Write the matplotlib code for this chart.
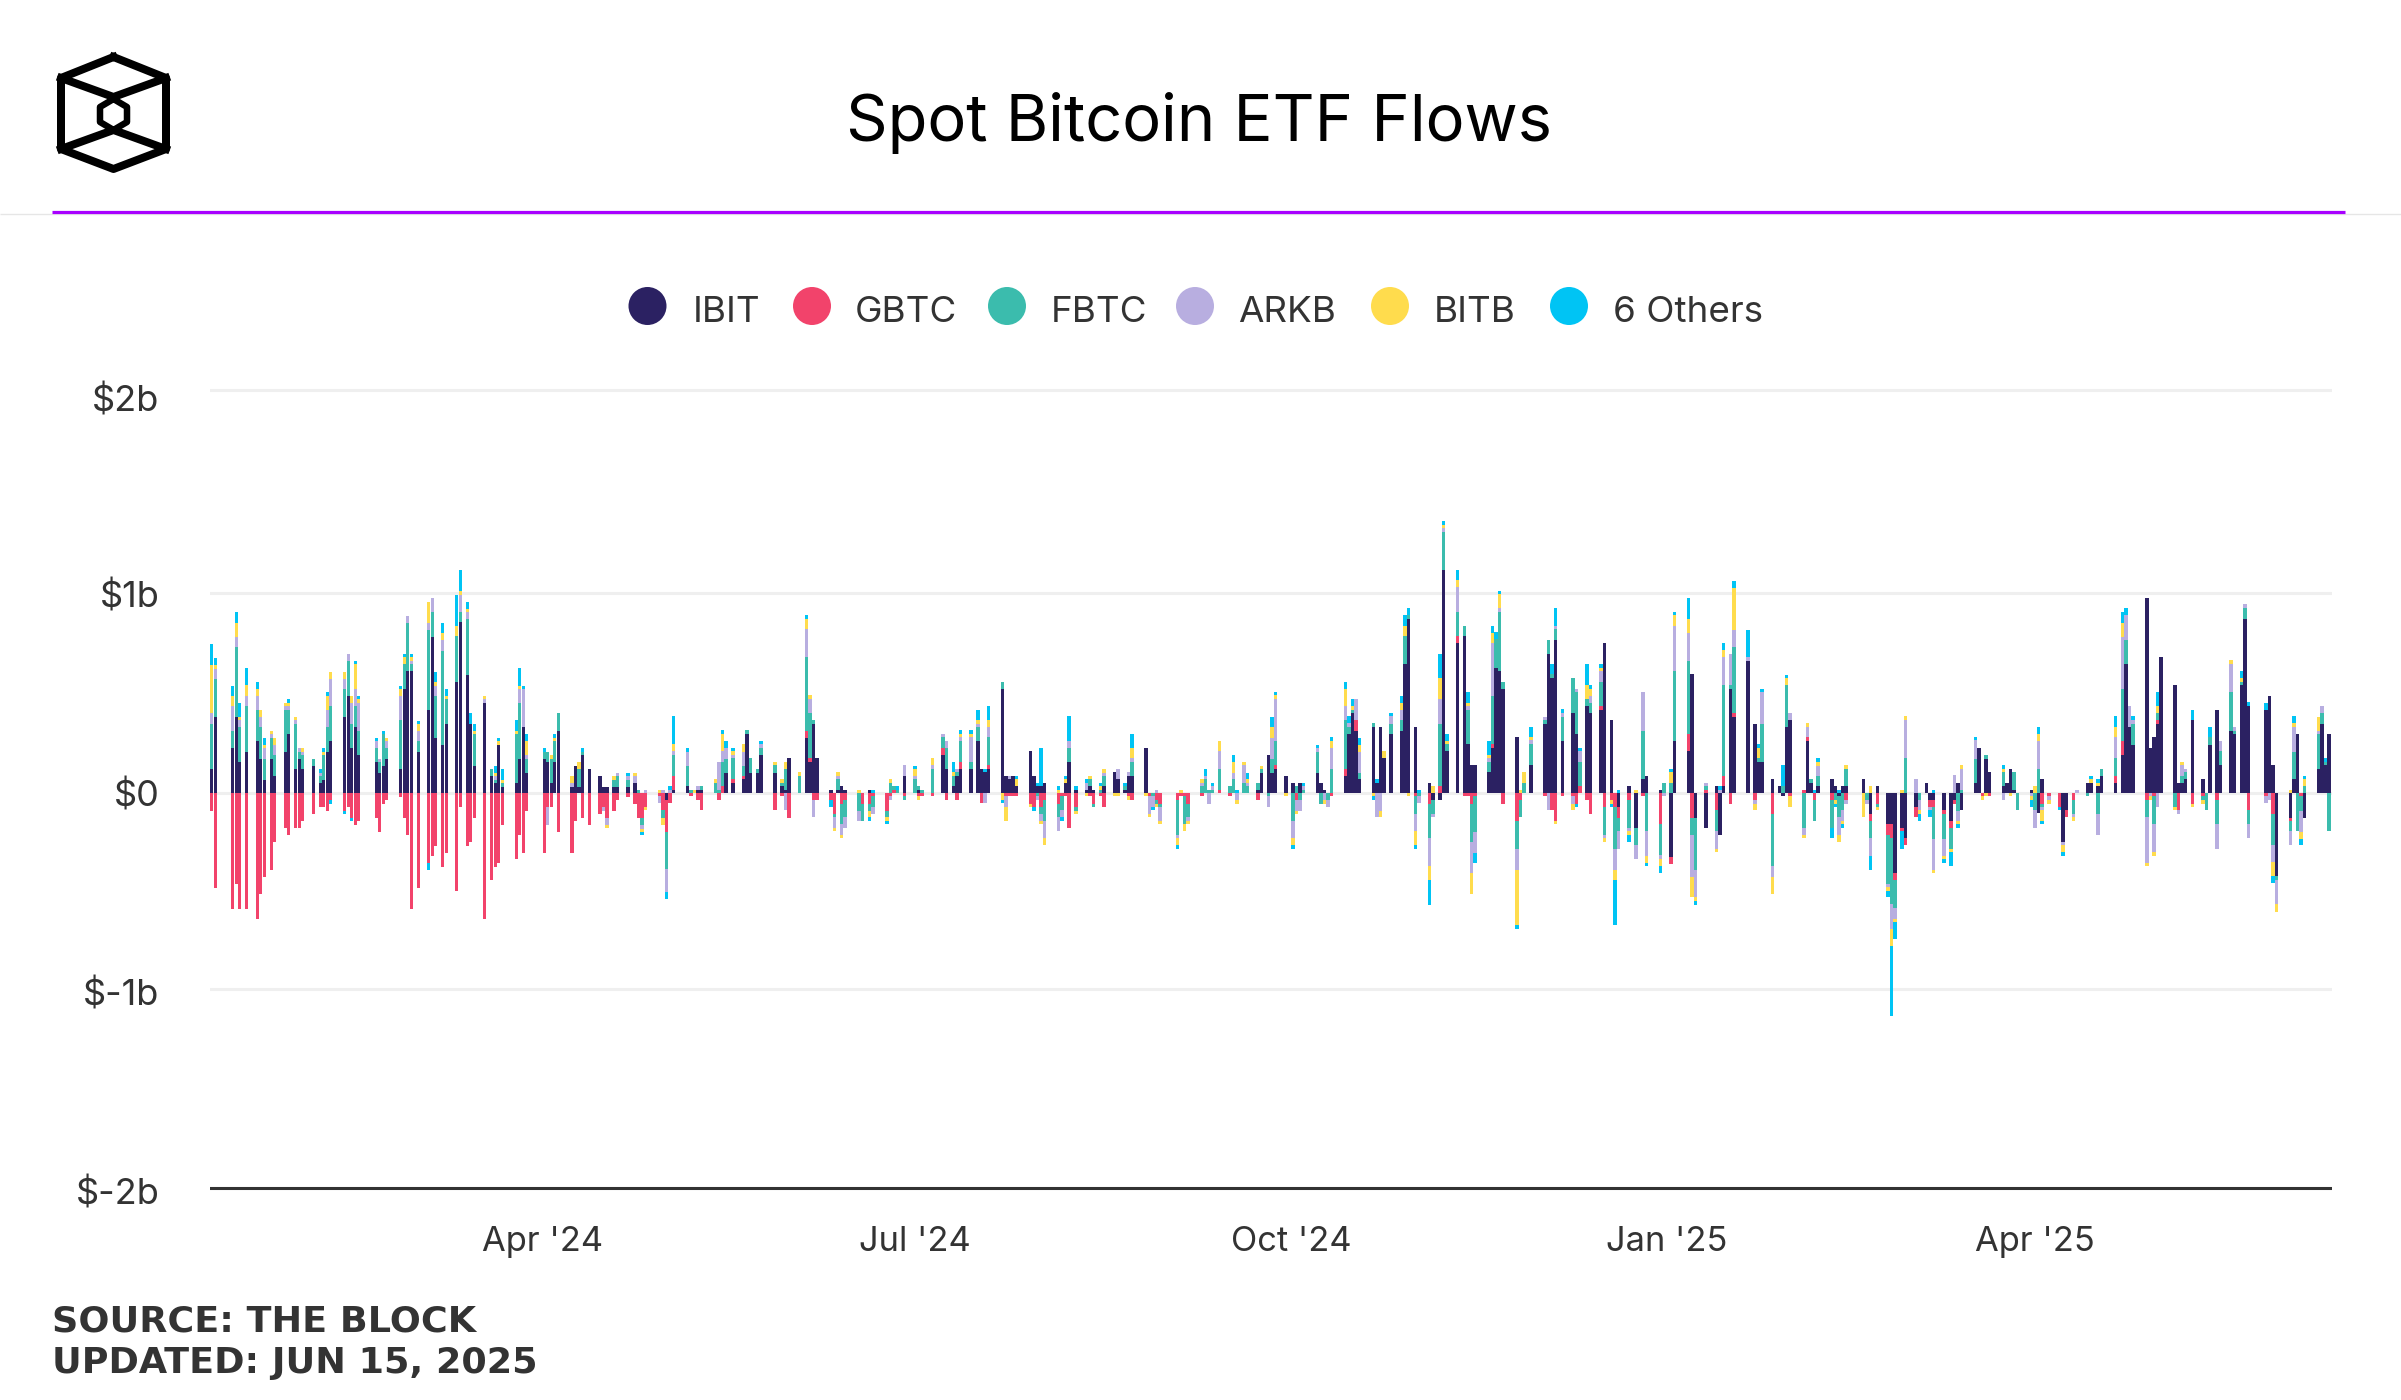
import numpy as np
import pandas as pd
import matplotlib
matplotlib.use("Agg")
import matplotlib.pyplot as plt
import matplotlib.dates as mdates
from matplotlib.lines import Line2D
from matplotlib.patches import Ellipse

# daily flows in $m, one line per week (Mon-Fri), first week starts Jan 8 2024
ibit = [
    0,0,0,120,380, 0,225,380,155,207, 260,172,67,172,85, 207,296,120,172,120, 137,50,67,207,260,
    380,488,225,330,190, 0,155,102,137,172, 120,522,611,611,207, 417,786,277,242,347, 558,857,593,347,137,
    452,85,50,242,32, 50,172,330,102,0, 172,155,50,155,312, 32,137,32,190,120, 85,32,32,32,32,
    32,50,0,0,0, 0,0,-33,0,17, 33,0,0,17,17, 0,0,0,102,52, 68,297,102,102,192,
    0,102,33,17,175, 0,277,157,349,175, 17,0,17,33,17, 0,0,0,17,0, 0,0,0,0,87,
    0,17,0,0,0, 192,122,33,87,122, 122,262,122,105,122, 524,87,68,87,33, 209,87,33,33,52,
    0,0,52,157,17, 17,33,17,0,33, 105,68,17,87,87, 227,0,0,0,0, 0,0,0,0,0,
    0,0,0,0,0, 0,0,0,0,0, 17,103,192,103,122, 87,52,0,52,0, 103,52,17,0,0,
    87,297,402,314,68, 332,52,332,174,297, 314,648,875,332,0, 52,-35,-35,1120,209, 753,788,244,139,139,
    104,227,628,613,524, 279,0,0,0,139, 347,698,578,767,262, 402,297,0,437,402, 419,753,367,0,-70,
    35,-175,0,70,87, 17,0,0,-322,262, 209,596,-124,0,-175, 35,-210,35,523,383, 0,663,349,157,157,
    70,35,-17,332,367, 0,262,52,0,33, 70,35,-17,35,35, 0,70,0,-105,35, -158,-158,-404,-175,-228,
    -70,0,52,-35,-35, -87,-140,-33,52,-87, 52,227,0,172,105, 33,52,122,17,0, 17,0,-103,70,0,
    0,-245,-87,0,0, 52,52,33,87,0, 52,192,648,332,242, 982,227,280,347,681, 543,52,52,68,367,
    68,0,242,419,139, 314,297,543,875,437, 0,419,489,139,-419, -124,68,297,0,-124, 122,349,139,297,0,
]
gbtc = [
    0,0,0,-88,-476, 0,-581,-457,-581,-581, -631,-509,-423,-387,-247, -177,-212,-177,-177,-142, -107,-72,-72,-88,-35,
    -88,-72,-124,-159,-142, 0,-124,-194,-53,-37, -18,-124,-212,-581,-476, -352,-317,-264,-370,-299, -493,-72,-264,-247,-124,
    -631,-439,-370,-352,-159, -334,-212,-299,-88,0, -299,-72,-72,0,-194, -299,-142,0,-124,-159, -107,-72,-124,-88,-35,
    -18,-53,-124,-124,-70, -17,-87,-162,-52,70, 0,-17,0,-35,-87, 0,-35,33,0,17, 18,0,0,0,0,
    0,-87,-17,0,-124, 0,35,18,-35,-35, -35,-105,0,-53,-35, 0,-53,0,-53,-17, -88,-17,17,0,-17,
    0,-17,-17,0,-17, 35,-35,0,-35,35, 0,0,-52,0,17, 0,-17,-17,-17,-17, -53,-70,0,-70,-35,
    -53,-17,-17,-175,-70, 0,-17,-53,-17,-70, 0,0,0,-17,-35, 0,-17,0,-35,-53, 0,-35,-17,-17,-53,
    -17,0,0,0,17, -17,0,0,0,0, -35,0,0,0,17, 0,0,-35,0,0, 0,0,0,0,-17,
    35,0,0,53,0, 0,0,0,0,0, 0,0,0,-17,0, -53,0,33,0,0, 35,-17,-17,-53,-17,
    0,17,0,0,-53, -140,-35,0,0,0, -17,0,-87,-139,-17, -17,-53,33,-33,-105, 18,-70,-35,-70,-55,
    -35,0,0,-17,0, -157,0,0,-35,0, 88,-124,0,0,17, -87,0,52,-53,18, 0,0,-35,0,0,
    -105,0,0,0,-17, 17,17,0,-35,0, -35,0,0,0,-35, 0,0,0,-35,-53, -52,-70,-35,-18,-35,
    -53,0,0,-35,-35, -18,-35,-20,0,0, 0,0,-17,0,-17, 0,0,0,0,0, 0,0,0,-53,-17,
    -70,0,-35,-35,0, 0,0,0,0,0, 35,70,0,0,0, -35,0,-17,20,0, 0,-87,0,0,-53,
    -17,0,0,-35,0, 0,0,0,0,-87, 0,-17,0,-105,0, -17,0,0,-17,0, 0,0,0,0,0,
]
fbtc = [
    0,0,0,225,195, 0,87,352,175,229, 157,159,105,105,105, 210,122,227,35,70, 35,35,124,124,175,
    142,175,122,105,122, 0,70,53,159,53, 245,124,245,35,53, 404,122,210,474,124, 229,52,281,0,159,
    0,35,17,0,17, 245,280,0,70,0, 35,52,122,105,88, 0,0,88,17,0, 0,0,0,35,53,
    35,0,15,-38,0, 0,-37,-189,0,105, 105,17,0,0,17, 52,17,124,70,105, 52,18,73,20,35,
    0,37,18,105,0, 87,370,227,18,0, 0,-18,52,-105,-88, -88,-88,0,-35,-53, -35,52,17,17,-18,
    68,17,17,0,122, 52,105,53,18,105, 35,70,0,0,140, 35,0,0,0,0, 0,0,-17,-35,-105,
    -70,-70,0,70,-18, 0,35,-17,17,53, 0,0,17,0,70, 0,0,-17,-18,-17, 0,-175,0,-140,-70,
    33,68,17,17,105, 33,68,0,52,33, 35,18,-17,70,124, 0,-140,33,-35,17, 105,-53,0,-35,122,
    245,35,17,0,35, 18,0,0,0,52, 53,140,18,-88,-17, -175,-70,313,194,35, 122,52,175,-192,-177,
    53,245,144,297,35, -140,-88,52,0,105, 18,70,18,57,122, 175,210,124,35,50, 122,-140,0,-210,-68,
    -140,-88,0,244,-193, -157,52,0,52,350, 367,-87,-262,0,17, -105,0,455,18,332, 0,0,0,18,192,
    -264,0,35,210,0, -175,0,18,-105,53, -140,-35,-105,-87,87, 0,0,-35,-88,-17, -245,-332,-140,0,175,
    0,-35,0,0,-159, -124,-105,0,-88,17, 120,0,0,20,0, 72,0,0,88,-87, 0,-87,122,-17,0,
    0,0,0,-70,0, -17,0,-105,35,0, 87,260,120,0,105, -88,0,-140,35,0, -70,0,35,37,0,
    -18,-87,37,-122,70, 194,17,17,53,-70, 0,0,0,-157,-18, -52,140,-192,-72,33, 175,53,17,-192,0,
]
arkb = [
    0,0,0,55,50, 0,125,52,35,52, 70,52,53,18,52, 18,18,18,18,17, 0,17,0,87,140,
    53,35,105,87,140, 0,35,17,0,35, 122,0,35,17,52, 35,70,53,52,0, 0,87,35,0,0,
    18,0,17,0,0, 0,70,192,18,0, 0,-88,0,0,0, 18,0,0,0,0, 0,-17,-35,0,17,
    18,35,0,-17,17, -35,17,-112,17,17, 70,0,0,17,0, 0,140,52,55,18, 70,0,0,0,18,
    0,0,0,-87,0, 0,140,70,-88,0, 0,-52,18,-52,-52, -52,0,0,0,-35, 0,-18,0,0,52,
    18,0,0,0,17, 18,35,0,17,17, 122,17,0,-52,53, 0,-53,18,0,0, 0,0,-18,-35,-88,
    -70,-35,0,35,0, 35,0,0,0,17, 0,53,0,18,17, 0,-88,-53,17,-70, 0,-18,0,0,-17,
    18,17,-53,17,87, 0,35,-35,87,18, 0,0,-53,105,210, 0,-88,-53,-53,17, 18,0,-35,-35,105,
    70,18,0,105,105, 0,-123,-88,0,37, 52,0,0,-88,-35, -140,-18,125,17,0, 124,0,18,-159,-105,
    17,264,0,18,0, -105,0,0,0,20, 18,-87,0,17,18, -37,18,53,0,35, 53,-18,0,-105,-87,
    -17,-70,0,193,-122, -18,-17,0,0,227, 140,-209,-139,0,18, -87,17,140,158,88, 0,18,-18,0,158,
    -52,0,0,0,35, -35,53,0,0,52, 0,0,-87,-53,-18, 0,0,-18,-87,0, -18,-124,-52,0,192,
    70,-52,0,-17,-157, -87,0,88,-52,105, 92,0,0,0,0, -35,0,0,0,0, -17,-88,140,-17,-18,
    0,-17,0,-18,17, 0,0,-105,0,0, 105,264,125,105,20, -227,-17,-140,-70,0, 0,-18,52,17,0,
    0,0,0,-124,53, 140,18,0,20,-70, 0,-35,-35,-87,-122, -70,124,0,-105,0, 17,35,0,0,0,
]
bitb = [
    0,0,0,245,20, 0,50,70,17,53, 35,35,17,17,35, 18,18,17,0,17, 0,0,17,70,35,
    35,0,35,124,18, 0,0,0,0,17, 35,35,0,18,35, 105,0,17,35,17, 52,18,18,0,17,
    17,0,17,18,17, 17,18,0,70,0, 0,0,18,17,0, 35,0,35,0,0, 0,0,-18,18,0,
    0,17,0,-17,-17, 17,-35,0,0,35, 0,0,17,0,0, 18,0,88,0,17, 37,0,0,0,0,
    0,18,18,35,0, 18,53,18,0,0, 0,-18,18,-18,0, 17,0,0,-35,0, -17,18,0,0,0,
    35,-18,0,0,35, 0,0,18,0,18, 18,18,0,0,35, -35,-70,0,0,35, -17,0,0,-18,-35,
    17,0,18,0,-17, -17,18,0,17,18, -17,-17,0,-18,53, -17,-18,0,-17,-17, 0,-35,17,-35,-17,
    17,0,0,0,53, 0,53,-18,18,17, 0,17,0,53,17, -17,-35,-17,0,0, 0,0,-18,0,35,
    87,0,18,0,35, -17,0,-35,35,0, 35,52,-17,-70,0, -70,33,105,18,18, 35,0,17,-105,0,
    18,52,0,70,0, -280,17,53,0,17, 0,0,0,-18,0, -33,0,0,70,37, 18,-17,-18,-53,0,
    -18,17,0,0,-35, -35,0,0,52,55, 70,-105,-18,0,0, -18,0,35,0,210, 0,0,-33,52,0,
    -87,0,0,35,-52, -18,18,0,0,18, 0,-18,-35,-17,18, 0,-122,0,33,-17, -17,-87,-17,17,18,
    0,-17,0,0,-18, -18,-18,0,-17,18, 0,0,-17,-17,0, 17,0,-17,0,0, -18,33,35,-53,-18,
    0,-35,0,-17,0, 0,17,18,0,0, 55,70,0,0,0, -17,-18,-18,35,0, -17,0,18,0,-17,
    -18,0,0,0,0, 18,0,18,0,0, 0,0,0,-70,-37, 17,18,0,-35,35, 70,0,0,0,0,
]
others = [
    0,0,0,105,35, 0,53,55,72,88, 35,0,35,0,0, 0,17,0,0,0, 0,17,17,18,-18,
    -18,0,-18,18,17, 0,17,0,17,0, 18,17,0,17,17, -35,0,53,52,35, 157,105,35,53,35,
    0,0,35,17,53, 53,88,18,35,0, 17,0,0,18,0, 0,0,0,17,0, 0,0,0,0,0,
    17,0,0,-17,0, 0,0,-38,17,142, 18,0,0,0,0, 0,0,18,35,18, 0,0,0,0,17,
    0,0,0,0,0, 0,18,0,0,0, -35,0,0,0,0, 0,0,0,-17,17, -17,0,0,17,0,
    17,0,0,0,0, 0,0,53,0,18, 18,52,0,17,70, -17,0,0,0,18, 0,-18,18,194,0,
    17,-17,17,124,17, 17,0,0,18,0, 0,0,18,0,70, 0,0,-17,0,0, 0,-18,0,0,0,
    0,35,0,18,0, 0,35,17,0,35, 0,0,0,53,18, 0,-18,0,0,18, 17,0,0,0,17,
    35,35,35,0,35, -18,17,0,0,17, 35,53,35,-18,17, -124,0,122,18,35, 53,0,53,0,-52,
    70,35,35,18,0, -18,0,0,0,52, 0,0,50,87,18, 0,-17,17,105,18, 17,0,-17,-227,17,
    -35,0,0,0,-18, -35,0,0,18,18, 105,0,-18,0,0, 0,17,35,0,35, 0,140,0,17,18,
    0,0,105,17,0, 0,0,0,17,18, -53,-17,17,-18,0, 0,0,0,-70,0, -35,-350,-87,-87,0,
    0,-35,0,-35,17, -17,-70,0,-18,0, 17,0,0,0,0, 17,0,0,0,0, -35,0,35,-17,0,
    -17,-18,0,0,0, 0,18,17,0,0, 52,55,35,0,18, 0,0,0,70,0, 0,0,0,0,52,
    0,0,53,0,0, 0,0,35,0,18, 0,35,0,-35,0, 0,35,0,-33,18, 0,0,18,0,0,
]

series_names = ["IBIT", "GBTC", "FBTC", "ARKB", "BITB", "6 Others"]
series_colors = ["#2b2162", "#f2436b", "#3bbcad", "#b8aee0", "#ffdc4d", "#00c4f4"]
y_ticks = [-2, -1, 0, 1, 1.985]
y_labels = ["$-2b", "$-1b", "$0", "$1b", "$2b"]
x_ticks = ["2024-04-01", "2024-07-01", "2024-10-01", "2025-01-01", "2025-04-01"]
x_labels = ["Apr '24", "Jul '24", "Oct '24", "Jan '25", "Apr '25"]

W, H = 2401, 1400
TEXT = "#333333"
SANS = "Inter"


def px_axes(fig, left, top, right, bottom):
    # add_axes from pixel edges, y measured from the top
    return fig.add_axes([left / W, 1 - bottom / H, (right - left) / W, (bottom - top) / H])


def draw_logo(ax):
    lines = [
        ([113.5, 166, 166, 113.5, 61, 61, 113.5], [57, 78, 149, 169, 149, 78, 57], 8),
        ([61, 113.5, 166], [78, 97, 78], 8),
        ([61, 113.5, 166], [149, 130, 149], 8),
        ([113.5, 127, 127, 113.5, 100, 100, 113.5], [99, 107, 122, 130, 122, 107, 99], 6.5),
    ]
    for xs, ys, w in lines:
        ax.plot(xs, ys, color="black", lw=w * 72 / 100, solid_joinstyle="round")


def main():
    fig = plt.figure(figsize=(W / 100, H / 100), dpi=100, facecolor="white")

    dates = pd.bdate_range("2024-01-08", "2025-06-13")
    values = np.array([ibit, gbtc, fbtc, arkb, bitb, others], dtype=float) / 1000

    # the chart draws its columns on a grid coarser than a day, so snap to it
    start = mdates.date2num(pd.Timestamp("2024-01-11"))
    days = mdates.date2num(dates) - start
    slots = np.round(days * 1.168 + 0.2)
    x = start + slots / 1.168

    ax = px_axes(fig, 210, 380, 2332, 1200)

    # the reference gridlines sit a few pixels off the true tick values
    for y in [2.025, 1.005, 0, -0.985]:
        ax.axhline(y, color="#efefef", lw=2.2, zorder=1)
    ax.axhline(-1.985, color="#333333", lw=2.2, zorder=1)

    pos_bottom = np.zeros(len(dates))
    neg_bottom = np.zeros(len(dates))
    for vals, color in zip(values, series_colors):
        pos = np.where(vals > 0, vals, 0)
        neg = np.where(vals < 0, vals, 0)
        ax.bar(x, pos, bottom=pos_bottom, width=0.82, color=color, linewidth=0, zorder=2)
        ax.bar(x, neg, bottom=neg_bottom, width=0.82, color=color, linewidth=0, zorder=2)
        pos_bottom += pos
        neg_bottom += neg

    for s in ax.spines.values():
        s.set_visible(False)
    ax.patch.set_alpha(0)
    ax.set_yticks(y_ticks)
    ax.set_yticklabels(y_labels, fontsize=26, color=TEXT, family=SANS)
    ax.set_xticks([mdates.date2num(pd.Timestamp(d)) for d in x_ticks])
    ax.set_xticklabels(x_labels, fontsize=24.8, color=TEXT, family=SANS)
    ax.tick_params(axis="both", length=0)
    ax.tick_params(axis="y", pad=36.5)
    ax.tick_params(axis="x", pad=18.5)
    # set limits last, set_yticks would widen them otherwise
    ax.set_xlim(start - 0.416, start + 518.7)
    ax.set_ylim(-(1200 - 793) / 199, (793 - 380) / 199)

    # header, legend and footer are laid out in image pixels
    over = fig.add_axes([0, 0, 1, 1], zorder=5)
    over.set_xlim(0, W)
    over.set_ylim(H, 0)
    over.axis("off")

    draw_logo(over)
    over.text(1199, 141, "Spot Bitcoin ETF Flows", fontsize=46.8, family=SANS,
              color="black", ha="center", va="baseline")
    over.add_line(Line2D([0, W], [213.5, 213.5], color="#e6e6e6", lw=1, solid_capstyle="butt"))
    over.add_line(Line2D([52, 2345], [212, 212], color="#a800ff", lw=2.3, solid_capstyle="butt"))

    marker_x = [647.5, 812, 1007, 1195, 1390, 1569]
    label_x = [693, 855, 1051, 1238, 1434, 1613]
    for mx, lx, name, color in zip(marker_x, label_x, series_names, series_colors):
        over.add_patch(Ellipse((mx, 306), 38, 38, color=color, lw=0))
        over.text(lx, 321.7, name, fontsize=26.5, family=SANS, color=TEXT, va="baseline")

    over.text(52, 1331.5, "SOURCE: THE BLOCK", fontsize=26.25, fontweight="bold",
              family="DejaVu Sans", color=TEXT, va="baseline")
    over.text(52, 1372.5, "UPDATED: JUN 15, 2025", fontsize=26.25, fontweight="bold",
              family="DejaVu Sans", color=TEXT, va="baseline")

    fig.savefig("out.png", dpi=100)


if __name__ == "__main__":
    main()
